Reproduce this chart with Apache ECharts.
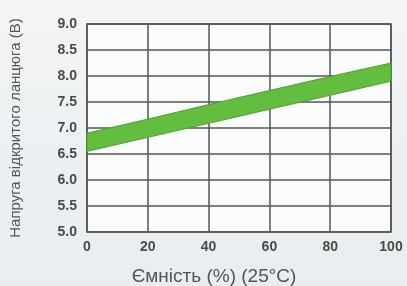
<!DOCTYPE html>
<html>
<head>
<meta charset="utf-8">
<script src="https://cdn.jsdelivr.net/npm/echarts@6/dist/echarts.min.js"></script>
<style>
  html, body { margin: 0; padding: 0; }
  #chart { width: 407px; height: 286px; }
</style>
</head>
<body>
<div id="chart"></div>
<script>
// capacity (%) at which the band edges were read
var capacity = [0, 20, 40, 60, 80, 100];
// lower and upper edge of the open-circuit voltage band (V)
var voltLow = [6.55, 6.82, 7.09, 7.36, 7.63, 7.9];
var voltHigh = [6.9, 7.17, 7.45, 7.72, 7.99, 8.25];

var xTicks = [0, 20, 40, 60, 80, 100];
var yTicks = [5.0, 5.5, 6.0, 6.5, 7.0, 7.5, 8.0, 8.5, 9.0];

// one row per band point: [capacity, low, high]
var bandRows = capacity.map(function (c, i) { return [c, voltLow[i], voltHigh[i]]; });

var chart = echarts.init(document.getElementById('chart'));
chart.setOption({
    backgroundColor: {
        type: 'linear', x: 0, y: 0, x2: 0, y2: 1,
        colorStops: [{ offset: 0, color: '#f2f4f5' }, { offset: 1, color: '#e9edf0' }]
    },
    animation: false,
    grid: {
        left: 87,
        right: 16,
        top: 24,
        bottom: 54,
        outerBoundsMode: 'none',
        show: true,
        backgroundColor: '#fafbfb',
        borderColor: '#555',
        borderWidth: 1.5
    },
    xAxis: {
        type: 'value',
        min: xTicks[0],
        max: xTicks[xTicks.length - 1],
        interval: 20,
        name: 'Ємність (%) (25°C)',
        nameLocation: 'middle',
        nameGap: 35,
        // title sits a bit left of the plot centre in the original
        nameTextStyle: { color: '#555', fontSize: 19, fontFamily: 'Liberation Sans', padding: [0, 50, 0, 0] },
        axisLine: { show: false },
        axisTick: { show: false },
        axisLabel: { color: '#4a4a4a', fontSize: 14, fontWeight: 'bold', fontFamily: 'Liberation Sans', margin: 8 },
        splitLine: { lineStyle: { color: '#555', width: 1.5 } }
    },
    yAxis: {
        type: 'value',
        min: yTicks[0],
        max: yTicks[yTicks.length - 1],
        interval: 0.5,
        name: 'Напруга відкритого ланцюга (В)',
        nameLocation: 'middle',
        nameGap: 64,
        nameTextStyle: { color: '#555', fontSize: 15, fontFamily: 'Liberation Sans' },
        axisLine: { show: false },
        axisTick: { show: false },
        axisLabel: {
            color: '#4a4a4a', fontSize: 14, fontWeight: 'bold', fontFamily: 'Liberation Sans', margin: 10,
            formatter: function (v) { return v.toFixed(1); }
        },
        splitLine: { lineStyle: { color: '#555', width: 1.5 } }
    },
    series: [
        {
            type: 'custom',
            data: [0],
            renderItem: function (params, api) {
                var upper = bandRows.map(function (r) { return api.coord([r[0], r[2]]); });
                var lower = bandRows.slice().reverse().map(function (r) { return api.coord([r[0], r[1]]); });
                return {
                    type: 'polygon',
                    shape: { points: upper.concat(lower) },
                    style: { fill: '#63be3f', stroke: '#4f9e33', lineWidth: 1 }
                };
            },
            z: 3
        }
    ]
});
</script>
</body>
</html>
